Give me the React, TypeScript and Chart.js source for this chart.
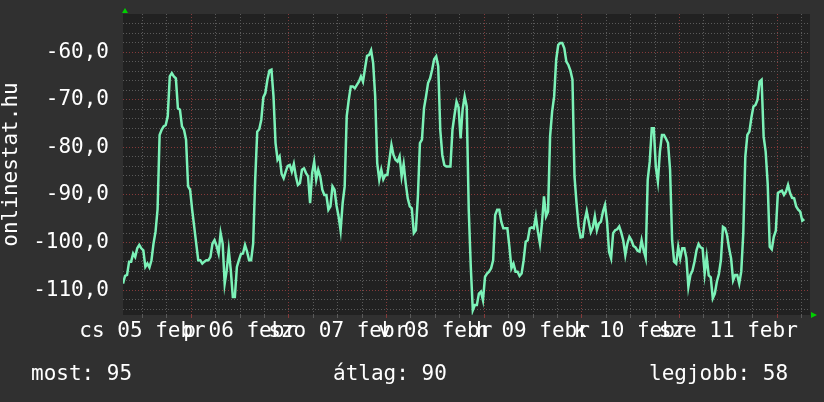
import React, { useEffect, useRef } from 'react';
import { Chart, registerables } from 'chart.js';

Chart.register(...registerables);

// ---- data ----
const DAY_LABELS = ['cs 05 febr', 'p 06 febr', 'szo 07 febr', 'v 08 febr', 'h 09 febr', 'k 10 febr', 'sze 11 febr'];

const SAMPLE_HOURS = 0.5; // one reading every 30 minutes, from the left edge of the graph
const SIGNAL = [
  -108.6, -107.0, -106.8, -104.0, -104.0, -102.3, -103.0, -101.2, -100.5, -101.2,
  -101.6, -105.1, -104.4, -105.2, -103.7, -100.2, -97.7, -93.0, -77.4, -76.3,
  -75.6, -75.3, -73.5, -65.1, -64.4, -65.1, -65.5, -71.8, -72.1, -75.6,
  -76.3, -78.4, -88.2, -88.9, -93.1, -96.6, -100.2, -103.7, -103.7, -104.4,
  -104.0, -103.7, -103.7, -103.0, -100.2, -99.5, -100.7, -102.3, -98.0, -100.2,
  -108.6, -105.8, -101.6, -105.8, -111.4, -111.4, -105.1, -103.7, -102.4, -102.3,
  -100.5, -101.9, -103.7, -103.7, -100.2, -86.8, -76.7, -76.2, -74.2, -69.5,
  -68.6, -65.8, -63.9, -63.7, -69.3, -79.1, -82.6, -81.9, -85.6, -86.5,
  -85.1, -83.9, -83.7, -85.1, -83.5, -86.1, -87.9, -87.5, -84.7, -84.4,
  -85.4, -86.1, -91.7, -85.4, -83.0, -86.8, -84.7, -86.1, -88.9, -90.0,
  -90.0, -93.1, -92.4, -88.2, -88.9, -92.2, -94.5, -97.5, -91.7, -88.2,
  -73.5, -70.0, -67.2, -67.2, -67.6, -66.9, -66.2, -65.1, -66.2, -63.4,
  -60.8, -60.6, -59.6, -62.3, -69.3, -83.3, -86.8, -84.7, -86.7, -85.8,
  -85.8, -82.6, -79.5, -81.6, -82.6, -83.0, -81.9, -86.1, -83.5, -87.5,
  -90.7, -92.4, -92.8, -98.0, -97.4, -90.3, -79.1, -78.4, -71.8, -69.3,
  -66.5, -65.5, -63.7, -61.5, -60.9, -63.0, -76.3, -81.6, -83.7, -84.0,
  -84.0, -84.0, -76.3, -73.2, -70.4, -71.6, -78.1, -72.0, -69.3, -71.4,
  -93.1, -105.0, -114.2, -113.1, -113.1, -110.7, -110.3, -112.1, -107.2, -106.5,
  -106.1, -105.4, -103.7, -94.2, -93.1, -93.1, -95.6, -97.0, -97.0, -97.0,
  -100.9, -105.4, -104.4, -106.1, -106.1, -107.0, -106.5, -103.7, -99.8, -99.5,
  -97.0, -96.8, -97.0, -94.5, -97.7, -100.2, -96.0, -90.3, -94.5, -93.5,
  -77.7, -72.5, -69.3, -61.6, -58.5, -58.1, -58.1, -59.2, -62.0, -62.7,
  -63.9, -65.8, -86.1, -91.7, -96.6, -98.9, -98.8, -95.4, -93.4, -95.6,
  -97.8, -96.8, -94.5, -97.4, -96.0, -95.6, -93.5, -92.1, -95.6, -101.9,
  -103.3, -98.0, -97.4, -97.2, -96.6, -97.9, -99.6, -102.6, -100.2, -98.8,
  -99.5, -100.7, -101.0, -101.7, -101.9, -99.5, -101.6, -103.2, -86.8, -83.0,
  -76.0, -76.0, -84.2, -87.2, -80.9, -77.4, -77.4, -78.2, -79.1, -84.7,
  -99.5, -104.0, -104.4, -100.9, -103.3, -101.2, -101.2, -103.2, -109.3, -106.8,
  -105.9, -104.0, -101.6, -100.3, -101.0, -101.2, -106.5, -103.0, -106.9, -107.3,
  -111.7, -110.7, -108.2, -106.6, -103.7, -96.7, -97.0, -98.4, -101.2, -103.3,
  -107.9, -106.8, -106.8, -108.6, -106.1, -98.0, -81.9, -77.4, -76.7, -73.7,
  -71.4, -71.1, -70.0, -66.2, -65.8, -77.7, -80.9, -87.7, -100.9, -101.4,
  -98.8, -97.5, -89.6, -89.3, -89.1, -90.0, -89.3, -87.9, -89.6, -90.6,
  -90.7, -92.4, -93.1, -93.5, -95.4, -95.1,
];

const SPAN_HOURS = 168.9;        // visible time span
const FIRST_MIDNIGHT = 16.8;     // hours from left edge to Feb 06 00:00
const Y_MIN = -115.2;
const Y_MAX = -52;
const Y_GRID_STEP = 2;
const Y_LABEL_STEP = 10;

const SUMMARY_LABELS = ['most', 'átlag', 'legjobb'];
const SUMMARY_VALUES = [95, 90, 58];

// ---- styling ----
const FONT = 'DejaVu Sans Mono';
const OUTER_BG = '#303030';
const PLOT_BG = '#212121';
const GRID_MINOR = '#5a5a5a';
const GRID_MAJOR = '#853a3a';
const LINE_COLOR = '#7cf2b8';
const TEXT_COLOR = '#ffffff';
const ARROW_COLOR = '#00d000';

const xGrid: number[] = [];
for (let h = FIRST_MIDNIGHT - 12; h < SPAN_HOURS; h += 6) xGrid.push(h);
const yGrid: number[] = [];
for (let v = Math.ceil(Y_MIN / Y_GRID_STEP) * Y_GRID_STEP; v < Y_MAX; v += Y_GRID_STEP) yGrid.push(v);

const rrdPlugin = {
  id: 'rrdDecor',
  beforeDraw(chart: any) {
    const { ctx, chartArea, width, height } = chart;
    ctx.save();
    ctx.fillStyle = OUTER_BG;
    ctx.fillRect(0, 0, width, height);
    ctx.fillStyle = PLOT_BG;
    ctx.fillRect(chartArea.left, chartArea.top, chartArea.right - chartArea.left, chartArea.bottom - chartArea.top);
    ctx.restore();
  },
  afterDraw(chart: any) {
    const { ctx, chartArea } = chart;
    ctx.save();
    // axis arrows
    ctx.fillStyle = ARROW_COLOR;
    const lx = chartArea.left + 2;
    const ty = chartArea.top;
    ctx.beginPath();
    ctx.moveTo(lx - 3, ty - 1);
    ctx.lineTo(lx + 3, ty - 1);
    ctx.lineTo(lx, ty - 6);
    ctx.closePath();
    ctx.fill();
    const rx = chartArea.right + 1;
    const by = chartArea.bottom;
    ctx.beginPath();
    ctx.moveTo(rx, by - 3);
    ctx.lineTo(rx, by + 3);
    ctx.lineTo(rx + 6, by);
    ctx.closePath();
    ctx.fill();
    // summary texts
    ctx.font = `21px "${FONT}"`;
    ctx.fillStyle = TEXT_COLOR;
    ctx.textBaseline = 'alphabetic';
    ctx.textAlign = 'left';
    const xs = [31, 333, 649];
    SUMMARY_LABELS.forEach((lab, i) => {
      ctx.fillText(`${lab}: ${SUMMARY_VALUES[i]}`, xs[i], 380);
    });
    ctx.restore();
  },
};

export default function App() {
  const ref = useRef<HTMLCanvasElement | null>(null);

  useEffect(() => {
    document.body.style.margin = '0';
    document.body.style.background = OUTER_BG;
    const canvas = ref.current;
    if (!canvas) return;
    const chart = new Chart(canvas, {
      type: 'line',
      data: {
        datasets: [
          {
            data: SIGNAL.map((v, i) => ({ x: i * SAMPLE_HOURS, y: v })),
            borderColor: LINE_COLOR,
            borderWidth: 2.5,
            pointRadius: 0,
            tension: 0,
            fill: false,
          },
        ],
      },
      options: {
        responsive: false,
        animation: false,
        events: [],
        layout: { padding: { left: 0, top: 14, right: 14, bottom: 0 } },
        plugins: { legend: { display: false }, tooltip: { enabled: false } },
        scales: {
          x: {
            type: 'linear',
            min: 0,
            max: SPAN_HOURS,
            afterBuildTicks: (s: any) => {
              s.ticks = xGrid.map((v) => ({ value: v }));
            },
            afterFit: (s: any) => {
              s.height = 87;
              s.paddingLeft = 0;
              s.paddingRight = 0;
            },
            ticks: {
              autoSkip: false,
              maxRotation: 0,
              minRotation: 0,
              padding: 1,
              color: TEXT_COLOR,
              font: { family: FONT, size: 21 },
              callback: (_v: any, i: number) => (i % 4 === 0 ? DAY_LABELS[i / 4] ?? '' : ''),
            },
            grid: {
              color: (c: any) => (c.index % 4 === 2 ? GRID_MAJOR : GRID_MINOR),
              tickColor: (c: any) => (c.index % 4 === 2 ? GRID_MAJOR : GRID_MINOR),
              lineWidth: 1,
              drawTicks: true,
              tickLength: 3,
            },
            border: { display: false, dash: [1, 2] },
          },
          y: {
            type: 'linear',
            min: Y_MIN,
            max: Y_MAX,
            afterBuildTicks: (s: any) => {
              s.ticks = yGrid.map((v) => ({ value: v }));
            },
            afterFit: (s: any) => {
              s.width = 123;
              s.paddingTop = 0;
              s.paddingBottom = 0;
            },
            ticks: {
              autoSkip: false,
              padding: 14,
              color: TEXT_COLOR,
              font: { family: FONT, size: 21 },
              callback: (v: any) => (v % Y_LABEL_STEP === 0 ? Number(v).toFixed(1).replace('.', ',') : ''),
            },
            grid: {
              color: (c: any) => (c.tick && c.tick.value % Y_LABEL_STEP === 0 ? GRID_MAJOR : GRID_MINOR),
              lineWidth: 1,
              drawTicks: false,
            },
            border: { display: false, dash: [1, 2] },
            title: {
              display: true,
              text: 'onlinestat.hu',
              color: TEXT_COLOR,
              font: { family: FONT, size: 21, lineHeight: 1.1 },
              padding: 0,
            },
          },
        },
      },
      plugins: [rrdPlugin],
    });
    return () => chart.destroy();
  }, []);

  return (
    <div style={{ width: 824, height: 402, background: OUTER_BG }}>
      <canvas ref={ref} width={824} height={402} style={{ display: 'block', width: 824, height: 402 }} />
    </div>
  );
}
